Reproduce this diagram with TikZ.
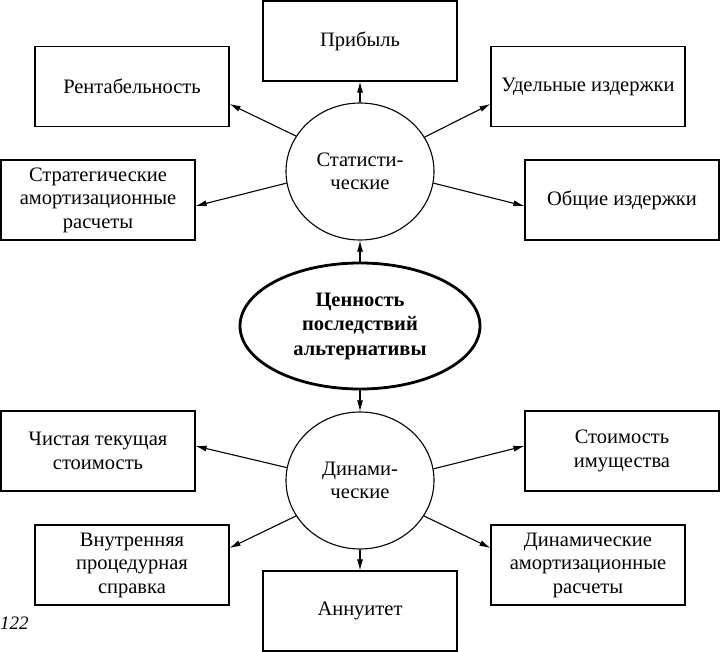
\documentclass[tikz,border=0pt]{standalone}
\usepackage{fontspec}
\setmainfont{Liberation Serif}
\usetikzlibrary{shapes.geometric,arrows.meta}
\begin{document}
\begin{tikzpicture}[x=1pt,y=-1pt,
  box/.style={draw,line width=1.1pt,minimum width=194pt,minimum height=80pt,inner sep=2pt,align=center,font=\fontsize{20.5}{23.5}\selectfont},
  oval/.style={draw,ellipse,line width=1.1pt,inner sep=0pt,minimum width=148pt,minimum height=137pt,align=center,font=\fontsize{20.5}{23.5}\selectfont},
  mainoval/.style={draw,ellipse,line width=2.8pt,inner sep=0pt,minimum width=240pt,minimum height=126pt,align=center,font=\bfseries\fontsize{20.5}{24.5}\selectfont},
  arr/.style={line width=1.1pt,-{Latex[length=11pt,width=6pt]}}]
\useasboundingbox (0,0) rectangle (720,652);
% top
\node[box] (prib) at (360,41) {Прибыль};
\node[box] (rent) at (132,86.5) {Рентабельность};
\node[box] (udel) at (588,86.5) {Удельные издержки};
\node[box] (strat) at (98,200) {Стратегические\\амортизационные\\расчеты};
\node[box] (obsh) at (622,200) {Общие издержки};
\node[oval] (stat) at (360,171.5) {Статисти-\\ческие};
\node[mainoval] (val) at (360,326) {Ценность\\последствий\\альтернативы};
% bottom
\node[oval] (din) at (360,480.5) {Динами-\\ческие};
\node[box] (chist) at (98,451) {Чистая текущая\\стоимость};
\node[box] (stoim) at (622,451) {Стоимость\\имущества};
\node[box] (vnutr) at (132,565) {Внутренняя\\процедурная\\справка};
\node[box] (dinam) at (588,565) {Динамические\\амортизационные\\расчеты};
\node[box] (ann) at (360,611) {Аннуитет};
\node[font=\itshape\fontsize{19}{21}\selectfont,anchor=west,inner sep=0pt] (page) at (0,623) {122};
% arrows
\draw[arr] (stat.north) -- (prib.south);
\draw[arr] (stat.151.7) -- ([yshift=-17.5pt]rent.east);
\draw[arr] (stat.28.3) -- ([yshift=-17.5pt]udel.west);
\draw[arr] (stat.189.2) -- ([yshift=-6pt]strat.east);
\draw[arr] (stat.-9.2) -- ([yshift=-6pt]obsh.west);
\draw[arr] (val.north) -- (stat.south);
\draw[arr] (val.south) -- (din.north);
\draw[arr] (din.170.8) -- ([yshift=5pt]chist.east);
\draw[arr] (din.9.2) -- ([yshift=5pt]stoim.west);
\draw[arr] (din.209) -- ([yshift=17pt]vnutr.east);
\draw[arr] (din.-29) -- ([yshift=17pt]dinam.west);
\draw[arr] (din.south) -- (ann.north);
\end{tikzpicture}
\end{document}
